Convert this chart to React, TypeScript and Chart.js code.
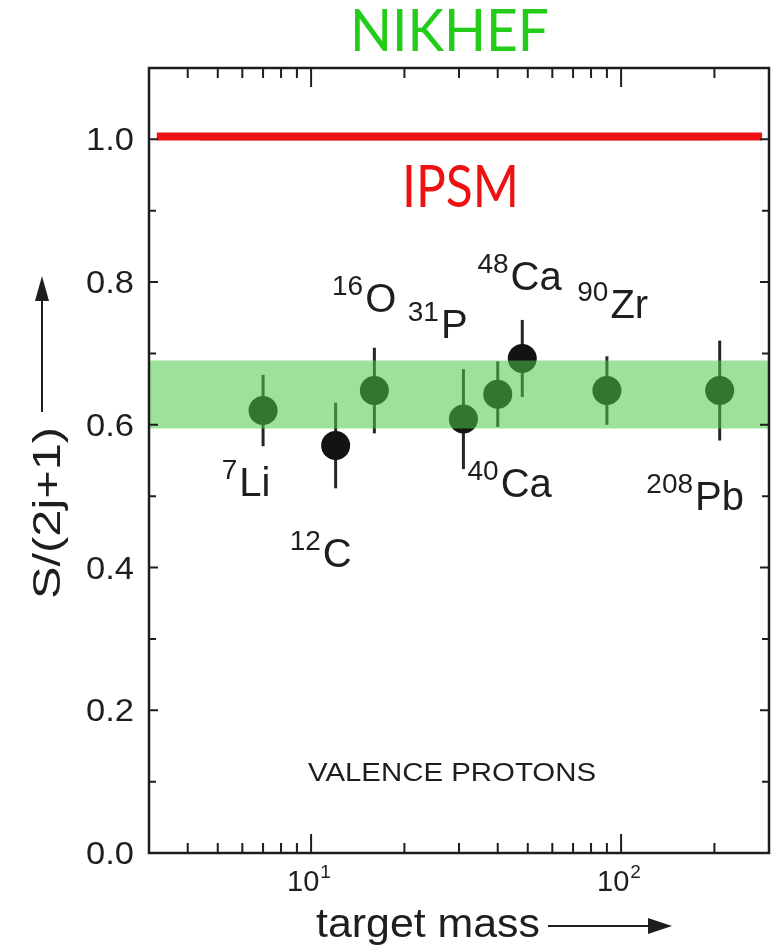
import React, { useEffect, useRef } from 'react';
import { Chart, registerables } from 'chart.js';

Chart.register(...registerables);

// ---- data ----
const massValues = [7, 12, 16, 31, 40, 48, 90, 208];
const sfValues = [0.62, 0.571, 0.648, 0.608, 0.643, 0.693, 0.648, 0.648];
const sfErrors = [0.05, 0.06, 0.06, 0.07, 0.046, 0.054, 0.048, 0.07];

const bandLow = 0.595;
const bandHigh = 0.69;
const bandXRange = [3, 300];

const ipsmValue = 1.004;
const ipsmXRange = [3.18, 285];
const refLineValue = 1.0;
const refLineXRange = [4.4, 207];

const yTickValues = [0, 0.2, 0.4, 0.6, 0.8, 1.0];
const yTickLabels = ['0.0', '0.2', '0.4', '0.6', '0.8', '1.0'];
const yMinorTicks = [0.1, 0.3, 0.5, 0.7, 0.9];
const xMajorTicks = [10, 100];
const xMajorExponents = ['1', '2'];
const xMinorTicks = [4, 5, 6, 7, 8, 9, 20, 30, 40, 50, 60, 70, 80, 90, 200];

const isoMass = ['7', '12', '16', '31', '48', '90', '40', '208'];
const isoSym = ['Li', 'C', 'O', 'P', 'Ca', 'Zr', 'Ca', 'Pb'];
const isoLabelX = [5.15, 8.53, 11.68, 20.5, 34.4, 72.2, 31.96, 120.6];
const isoLabelY = [0.5, 0.4006, 0.758, 0.721, 0.7885, 0.749, 0.4986, 0.48];

const SANS = '"Liberation Sans", Arial, Helvetica, sans-serif';
const GILL = 'Lato, "Open Sans", sans-serif';
const INK = '#1e1e1e';

function fitText(ctx: CanvasRenderingContext2D, text: string, left: number, baseline: number, width: number) {
  const w = ctx.measureText(text).width;
  ctx.save();
  ctx.translate(left, baseline);
  ctx.scale(width / w, 1);
  ctx.textAlign = 'left';
  ctx.textBaseline = 'alphabetic';
  ctx.fillText(text, 0, 0);
  ctx.restore();
}

const decorPlugin = {
  id: 'decor',
  beforeDatasetsDraw(chart: any) {
    const ctx = chart.ctx as CanvasRenderingContext2D;
    const xs = chart.scales.x;
    const ys = chart.scales.y;
    ctx.save();
    ctx.strokeStyle = '#262626';
    ctx.lineWidth = 3;
    massValues.forEach((m, i) => {
      const px = xs.getPixelForValue(m);
      ctx.beginPath();
      ctx.moveTo(px, ys.getPixelForValue(sfValues[i] + sfErrors[i]));
      ctx.lineTo(px, ys.getPixelForValue(sfValues[i] - sfErrors[i]));
      ctx.stroke();
    });
    ctx.restore();
  },
  afterDraw(chart: any) {
    const ctx = chart.ctx as CanvasRenderingContext2D;
    const xs = chart.scales.x;
    const ys = chart.scales.y;
    const a = chart.chartArea;
    ctx.save();
    // frame
    ctx.strokeStyle = INK;
    ctx.lineWidth = 2.5;
    ctx.strokeRect(a.left, a.top, a.right - a.left, a.bottom - a.top);
    // x ticks
    ctx.lineWidth = 2;
    const xt = (v: number, len: number) => {
      const px = xs.getPixelForValue(v);
      ctx.beginPath();
      ctx.moveTo(px, a.bottom);
      ctx.lineTo(px, a.bottom - len);
      ctx.moveTo(px, a.top);
      ctx.lineTo(px, a.top + len);
      ctx.stroke();
    };
    xMajorTicks.forEach((v) => xt(v, 19));
    xMinorTicks.forEach((v) => xt(v, 10));
    const yt = (v: number, len: number) => {
      const py = ys.getPixelForValue(v);
      ctx.beginPath();
      ctx.moveTo(a.left, py);
      ctx.lineTo(a.left + len, py);
      ctx.moveTo(a.right, py);
      ctx.lineTo(a.right - len, py);
      ctx.stroke();
    };
    yTickValues.forEach((v) => yt(v, 9));
    yMinorTicks.forEach((v) => yt(v, 7));

    // y tick labels
    ctx.fillStyle = INK;
    ctx.font = `31px ${SANS}`;
    yTickValues.forEach((v, i) => {
      fitText(ctx, yTickLabels[i], 86, ys.getPixelForValue(v) + 11, 48);
    });
    // x tick labels
    xMajorTicks.forEach((v, i) => {
      const px = xs.getPixelForValue(v);
      ctx.textAlign = 'left';
      ctx.textBaseline = 'alphabetic';
      ctx.font = `29px ${SANS}`;
      const w = ctx.measureText('10').width;
      ctx.fillText('10', px - 24, 891);
      ctx.font = `19px ${SANS}`;
      ctx.fillText(xMajorExponents[i], px - 24 + w + 1, 878);
    });

    // isotope labels
    isoSym.forEach((sym, i) => {
      const px = xs.getPixelForValue(isoLabelX[i]);
      const py = ys.getPixelForValue(isoLabelY[i]);
      ctx.textAlign = 'left';
      ctx.textBaseline = 'alphabetic';
      ctx.font = `28px ${SANS}`;
      const w = ctx.measureText(isoMass[i]).width;
      ctx.fillText(isoMass[i], px, py - 17);
      ctx.font = `40px ${SANS}`;
      ctx.fillText(sym, px + w + 2, py);
    });

    // VALENCE PROTONS
    ctx.font = `25px ${SANS}`;
    fitText(ctx, 'VALENCE PROTONS', 308, 781, 288);

    // x title + arrow
    ctx.font = `41px ${SANS}`;
    fitText(ctx, 'target mass', 316, 937, 224);
    ctx.lineWidth = 2;
    ctx.beginPath();
    ctx.moveTo(548, 926);
    ctx.lineTo(652, 926);
    ctx.stroke();
    ctx.beginPath();
    ctx.moveTo(672, 926);
    ctx.lineTo(648, 918);
    ctx.lineTo(648, 934);
    ctx.closePath();
    ctx.fill();

    // y title + arrow
    ctx.save();
    ctx.translate(60, 599);
    ctx.rotate(-Math.PI / 2);
    ctx.font = `38px ${SANS}`;
    fitText(ctx, 'S/(2j+1)', 0, 0, 172);
    ctx.restore();
    ctx.beginPath();
    ctx.moveTo(42, 412);
    ctx.lineTo(42, 296);
    ctx.stroke();
    ctx.beginPath();
    ctx.moveTo(42, 276);
    ctx.lineTo(35, 301);
    ctx.lineTo(49, 301);
    ctx.closePath();
    ctx.fill();

    // NIKHEF / IPSM
    ctx.fillStyle = '#22cc18';
    ctx.font = `58px ${GILL}`;
    fitText(ctx, 'NIKHEF', 350, 51, 199);
    ctx.fillStyle = '#ee1111';
    ctx.font = `58px ${GILL}`;
    fitText(ctx, 'IPSM', 402, 207, 117);
    ctx.restore();
  },
};

export default function App() {
  const ref = useRef<HTMLCanvasElement>(null);
  useEffect(() => {
    const canvas = ref.current!;
    const points = massValues.map((m, i) => ({ x: m, y: sfValues[i] }));
    const chart = new Chart(canvas, {
      type: 'scatter',
      data: {
        datasets: [
          {
            type: 'line',
            label: 'IPSM',
            data: ipsmXRange.map((x) => ({ x, y: ipsmValue })),
            borderColor: '#f01212',
            borderWidth: 8,
            pointRadius: 0,
            borderCapStyle: 'butt',
            order: 3,
          } as any,
          {
            type: 'line',
            label: 'ref',
            data: refLineXRange.map((x) => ({ x, y: refLineValue })),
            borderColor: '#333333',
            borderWidth: 2,
            pointRadius: 0,
            order: 4,
          } as any,
          {
            type: 'scatter',
            label: 'NIKHEF data',
            data: points,
            backgroundColor: '#131313',
            borderColor: '#131313',
            borderWidth: 0,
            pointRadius: 14.5,
            order: 2,
          } as any,
          {
            type: 'line',
            label: 'band low',
            data: bandXRange.map((x) => ({ x, y: bandLow })),
            borderWidth: 0,
            pointRadius: 0,
            fill: false,
            order: 1,
          } as any,
          {
            type: 'line',
            label: 'band high',
            data: bandXRange.map((x) => ({ x, y: bandHigh })),
            borderWidth: 0,
            borderColor: 'rgba(0,0,0,0)',
            pointRadius: 0,
            fill: '-1',
            backgroundColor: 'rgba(77,202,72,0.55)',
            order: 0,
          } as any,
        ],
      },
      options: {
        responsive: false,
        animation: false,
        devicePixelRatio: 1,
        layout: { autoPadding: false, padding: { top: 68, right: 6, left: 0, bottom: 0 } },
        plugins: { legend: { display: false }, tooltip: { enabled: false } },
        scales: {
          x: {
            type: 'logarithmic',
            min: 3,
            max: 300,
            grid: { display: false },
            border: { display: false },
            ticks: { display: false },
            afterFit: (s: any) => { s.height = 98; },
          },
          y: {
            type: 'linear',
            min: 0,
            max: 1.1,
            grid: { display: false },
            border: { display: false },
            ticks: { display: false },
            afterFit: (s: any) => { s.width = 149; },
          },
        },
      } as any,
      plugins: [decorPlugin],
    });
    return () => chart.destroy();
  }, []);
  return (
    <div style={{ position: 'absolute', left: 0, top: 0, width: 775, height: 951, background: '#fff' }}>
      <canvas ref={ref} width={775} height={951} style={{ display: 'block' }} />
    </div>
  );
}
